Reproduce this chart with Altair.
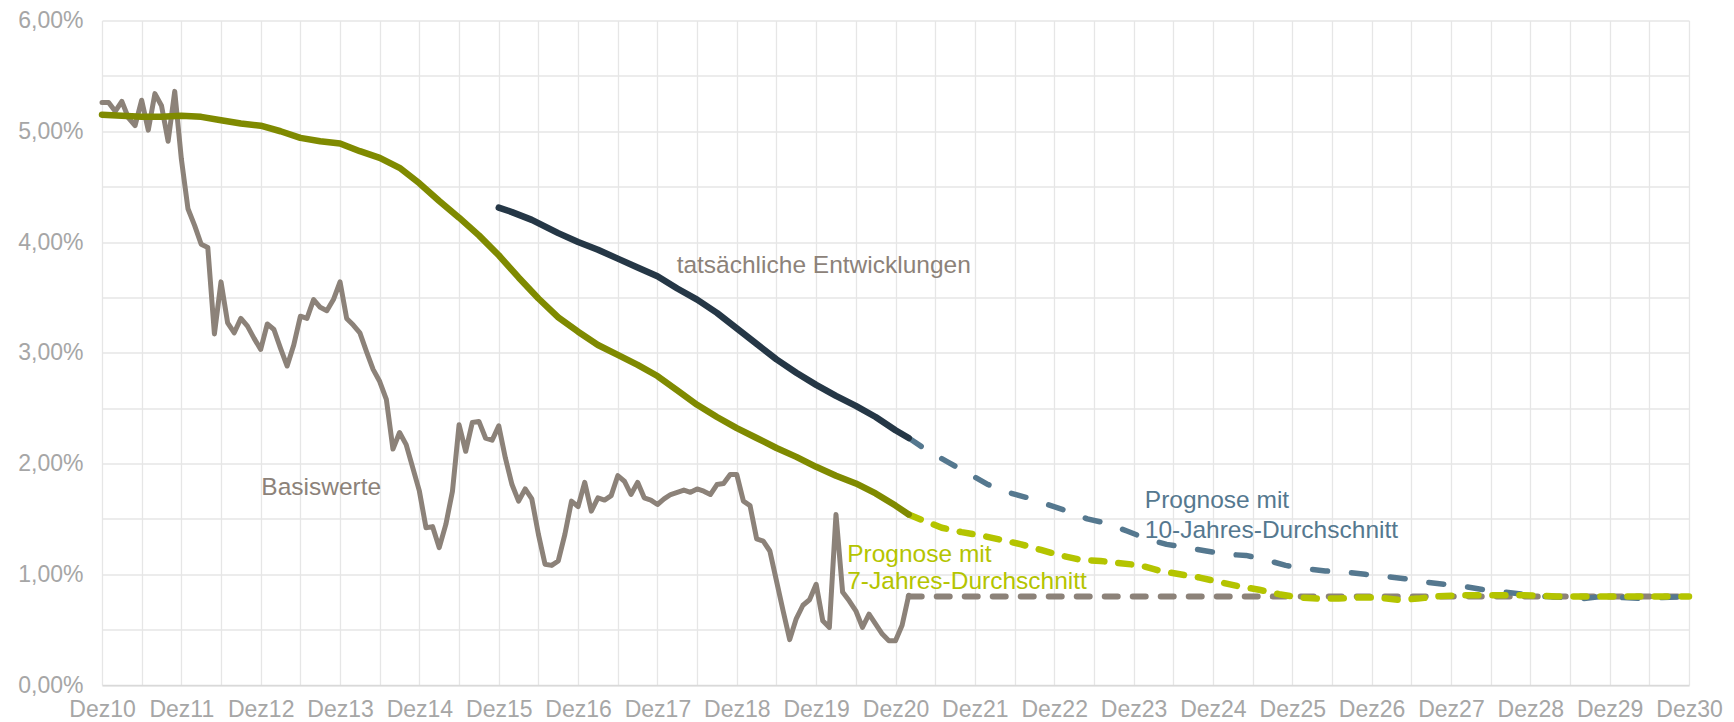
import altair as alt
import pandas as pd

# x = months since Dez10, y = percent
base_m = list(range(0, 123))
base_v = [5.26, 5.26, 5.18, 5.27, 5.12, 5.05, 5.28, 5.01, 5.34, 5.23,
          4.91, 5.36, 4.75, 4.30, 4.15, 3.98, 3.95, 3.17, 3.64, 3.27,
          3.18, 3.31, 3.24, 3.13, 3.03, 3.26, 3.21, 3.04, 2.88, 3.07,
          3.33, 3.31, 3.48, 3.41, 3.38, 3.48, 3.64, 3.31, 3.25, 3.18,
          3.01, 2.85, 2.74, 2.58, 2.13, 2.28, 2.17, 1.96, 1.75, 1.42,
          1.43, 1.24, 1.45, 1.75, 2.35, 2.11, 2.37, 2.38, 2.23, 2.21,
          2.34, 2.05, 1.81, 1.66, 1.77, 1.68, 1.36, 1.09, 1.08, 1.12,
          1.36, 1.66, 1.61, 1.83, 1.57, 1.69, 1.67, 1.71, 1.89, 1.84,
          1.72, 1.83, 1.69, 1.67, 1.63, 1.68, 1.72, 1.74, 1.76, 1.74,
          1.77, 1.75, 1.72, 1.81, 1.82, 1.90, 1.90, 1.66, 1.62, 1.32,
          1.30, 1.21, 0.94, 0.67, 0.41, 0.60, 0.72, 0.77, 0.91, 0.58,
          0.52, 1.54, 0.84, 0.76, 0.67, 0.52, 0.64, 0.55, 0.46, 0.40,
          0.40, 0.54, 0.81]

base_fc_m = [122, 240]
base_fc_v = [0.80, 0.80]

avg7_m = [0, 3, 6, 9, 12, 15, 18, 21, 24, 27, 30, 33, 36, 39, 42, 45, 48, 51,
          54, 57, 60, 63, 66, 69, 72, 75, 78, 81, 84, 87, 90, 93, 96, 99, 102,
          105, 108, 111, 114, 117, 120, 122]
avg7_v = [5.15, 5.14, 5.13, 5.13, 5.14, 5.13, 5.10, 5.07, 5.05, 5.00, 4.94,
          4.91, 4.89, 4.82, 4.76, 4.67, 4.53, 4.37, 4.22, 4.06, 3.88, 3.68,
          3.49, 3.32, 3.19, 3.07, 2.98, 2.89, 2.79, 2.66, 2.53, 2.42, 2.32,
          2.23, 2.14, 2.06, 1.97, 1.89, 1.82, 1.73, 1.62, 1.54]

avg7_fc_m = [122, 124, 127, 130, 133, 136, 139, 142, 145, 148, 151, 154, 157,
             160, 163, 166, 169, 172, 175, 178, 181, 184, 187, 190, 193, 196,
             199, 202, 205, 210, 215, 220, 225, 230, 240]
avg7_fc_v = [1.54, 1.49, 1.42, 1.38, 1.35, 1.31, 1.27, 1.22, 1.17, 1.13, 1.12,
             1.10, 1.08, 1.03, 1.00, 0.97, 0.93, 0.89, 0.86, 0.82, 0.79, 0.78,
             0.78, 0.79, 0.79, 0.77, 0.78, 0.80, 0.81, 0.81, 0.81, 0.80, 0.80,
             0.80, 0.80]

actual_m = [60, 62, 65, 69, 72, 75, 78, 81, 84, 87, 90, 93, 96, 99, 102, 105,
            108, 111, 114, 117, 120, 122]
actual_v = [4.31, 4.27, 4.20, 4.08, 4.00, 3.93, 3.85, 3.77, 3.69, 3.58, 3.48,
            3.36, 3.22, 3.08, 2.94, 2.82, 2.71, 2.61, 2.52, 2.42, 2.30, 2.23]

avg10_fc_m = [122, 125, 128, 131, 134, 137, 140, 143, 146, 149, 152, 155, 158,
              161, 164, 167, 170, 173, 176, 179, 182, 185, 188, 191, 194, 197,
              200, 203, 206, 209, 212, 215, 218, 221, 224, 227, 230, 233, 236,
              240]
avg10_fc_v = [2.23, 2.11, 2.01, 1.91, 1.81, 1.74, 1.69, 1.63, 1.57, 1.50, 1.46,
              1.39, 1.32, 1.27, 1.24, 1.21, 1.18, 1.17, 1.13, 1.08, 1.05, 1.03,
              1.02, 1.00, 0.98, 0.96, 0.93, 0.91, 0.89, 0.86, 0.84, 0.82, 0.80,
              0.79, 0.78, 0.80, 0.79, 0.78, 0.79, 0.80]

label_text = ["tatsächliche Entwicklungen", "Basiswerte", "Prognose mit",
              "7-Jahres-Durchschnitt", "Prognose mit", "10-Jahres-Durchschnitt"]
label_m = [86.9, 24.1, 112.7, 112.7, 157.7, 157.7]
label_v = [3.78, 1.78, 1.17, 0.93, 1.66, 1.39]
label_color = ["#8c8279", "#8c8279", "#b4c400", "#b4c400", "#55788f", "#55788f"]

x_ticks = list(range(0, 241, 6))
y_ticks = [i * 0.5 for i in range(0, 13)]

FONT = "Liberation Sans"

x_enc = alt.X(
    "m:Q",
    scale=alt.Scale(domain=[0, 240], nice=False, zero=False),
    axis=alt.Axis(
        values=x_ticks,
        labelExpr="datum.value % 12 == 0 ? 'Dez' + (10 + datum.value / 12) : ''",
        title=None, ticks=False, labelFlush=False, labelOverlap=False,
        labelBaseline="alphabetic", labelPadding=31,
    ),
)
y_enc = alt.Y(
    "v:Q",
    scale=alt.Scale(domain=[0, 6], nice=False),
    axis=alt.Axis(
        values=y_ticks,
        labelExpr="datum.value % 1 == 0 ? replace(format(datum.value, '.2f'), '.', ',') + '%' : ''",
        title=None, ticks=False, labelOverlap=False, labelPadding=19,
    ),
)


def line(ms, vs, color, width, dash=None):
    df = pd.DataFrame({"m": ms, "v": vs})
    kw = dict(color=color, strokeWidth=width, strokeCap="round", strokeJoin="round")
    if dash is not None:
        kw["strokeDash"] = dash
    return alt.Chart(df).mark_line(**kw).encode(x=x_enc, y=y_enc)


labels_df = pd.DataFrame({"t": label_text, "m": label_m, "v": label_v, "c": label_color})
texts = alt.Chart(labels_df).mark_text(
    align="left", baseline="middle", font=FONT, fontSize=24.5
).encode(x=x_enc, y=y_enc, text="t:N", color=alt.Color("c:N", scale=None))

chart = alt.layer(
    line(base_m, base_v, "#8c8279", 5),
    line(base_fc_m, base_fc_v, "#8c8279", 6, [13, 15]),
    line(avg10_fc_m, avg10_fc_v, "#55788f", 5.5, [15, 24]),
    line(avg7_fc_m, avg7_fc_v, "#b4c400", 6.5, [13, 14]),
    line(avg7_m, avg7_v, "#7f8a00", 6.5),
    line(actual_m, actual_v, "#253746", 6.5),
    texts,
).properties(
    width=1587, height=664.5,
    autosize=alt.AutoSizeParams(type="none"),
    padding={"left": 94, "top": 12.5, "right": 37, "bottom": 36},
).configure_view(stroke=None).configure_axis(
    grid=True, gridColor="#e6e6e6", gridWidth=1.3,
    domain=True, domainColor="#d9d9d9", domainWidth=1.5,
    labelFont=FONT, labelFontSize=23, labelColor="#a6a6a6",
).configure_axisY(domain=False)

chart.save("out.html", embed_options={"renderer": "svg", "actions": False})
